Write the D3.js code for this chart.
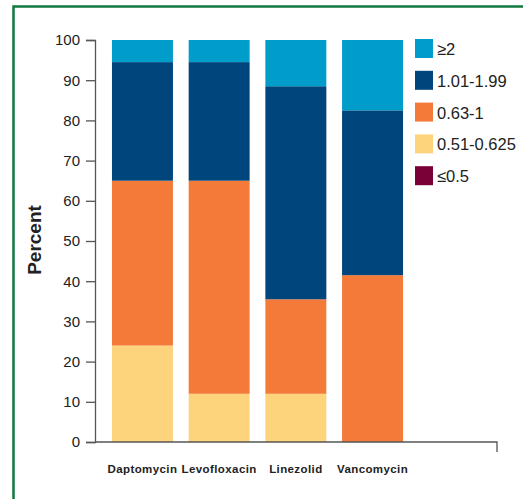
<!DOCTYPE html>
<html><head><meta charset="utf-8">
<script src="https://cdn.jsdelivr.net/npm/d3@7"></script>
<style>
html,body{margin:0;padding:0;background:#fff;}
svg{display:block;}
</style></head>
<body>
<svg id="chart" width="523" height="499"></svg>
<script>
const categories = ["Daptomycin", "Levofloxacin", "Linezolid", "Vancomycin"];
const seriesNames = ["≤0.5", "0.51-0.625", "0.63-1", "1.01-1.99", "≥2"];
const le05 = [0, 0, 0, 0];
const s051_0625 = [24, 12, 12, 0];
const s063_1 = [41, 53, 23.5, 41.5];
const s101_199 = [29.5, 29.5, 53, 41];
const ge2 = [5.5, 5.5, 11.5, 17.5];
const yTicks = [0, 10, 20, 30, 40, 50, 60, 70, 80, 90, 100];
const colors = ["#7a0038", "#fdd37b", "#f47a3a", "#00457b", "#009dca"];

const seriesValues = [le05, s051_0625, s063_1, s101_199, ge2];
const table = categories.map((c, i) => {
  const row = {category: c};
  seriesNames.forEach((s, j) => row[s] = seriesValues[j][i]);
  return row;
});

const svg = d3.select("#chart");

// frame
svg.append("rect").attr("x", 13.5).attr("y", 6.5).attr("width", 600).attr("height", 600)
  .attr("fill", "none").attr("stroke", "#11783f").attr("stroke-width", 2.5);

const y = d3.scaleLinear().domain([0, 100]).range([442, 40]);
const x = d3.scaleBand().domain(categories).range([104.3, 410.7]).paddingInner(0.205).paddingOuter(0.1);
const color = d3.scaleOrdinal().domain(seriesNames).range(colors);
const axisX = 95, axisEnd = 497;

const stack = d3.stack().keys(seriesNames)(table);

svg.append("g").selectAll("g").data(stack).join("g")
  .attr("fill", d => color(d.key))
  .selectAll("rect").data(d => d).join("rect")
  .attr("x", d => x(d.data.category))
  .attr("width", x.bandwidth())
  .attr("y", d => y(d[1]))
  .attr("height", d => Math.max(0, y(d[0]) - y(d[1])));

// y axis
const yAxis = svg.append("g").attr("transform", `translate(${axisX},0)`)
  .call(d3.axisLeft(y).tickValues(yTicks).tickSize(9).tickSizeOuter(9).tickPadding(6));
yAxis.selectAll("path,line").attr("stroke", "#555").attr("stroke-width", 1.3);
yAxis.selectAll("text").attr("font-family", "Liberation Sans, Arial, sans-serif")
  .attr("font-size", 15).attr("fill", "#222");

// x axis line
svg.append("path")
  .attr("d", `M${axisX},${y(0)}H${axisEnd}V${y(0) + 10}`)
  .attr("fill", "none").attr("stroke", "#555").attr("stroke-width", 1.3);

// category labels
svg.append("g").selectAll("text").data(categories).join("text")
  .attr("x", d => x(d) + x.bandwidth() / 2)
  .attr("y", 473)
  .attr("text-anchor", "middle")
  .attr("font-family", "Liberation Sans, Arial, sans-serif")
  .attr("font-weight", "bold")
  .attr("font-size", 11.5)
  .attr("letter-spacing", 0.4)
  .attr("fill", "#222")
  .text(d => d);

// y title
svg.append("text")
  .attr("transform", "translate(41,240) rotate(-90)")
  .attr("text-anchor", "middle")
  .attr("font-family", "Liberation Sans, Arial, sans-serif")
  .attr("font-weight", "bold")
  .attr("font-size", 19)
  .attr("fill", "#222")
  .text("Percent");

// legend
const legendOrder = seriesNames.slice().reverse();
const lg = svg.append("g").selectAll("g").data(legendOrder).join("g")
  .attr("transform", (d, i) => `translate(415,${39 + i * 31.8})`);
lg.append("rect").attr("width", 18).attr("height", 19).attr("fill", d => color(d));
lg.append("text").attr("x", 22).attr("y", 16)
  .attr("font-family", "Liberation Sans, Arial, sans-serif")
  .attr("font-size", 16.5).attr("fill", "#222")
  .text(d => d);
</script>
</body></html>
